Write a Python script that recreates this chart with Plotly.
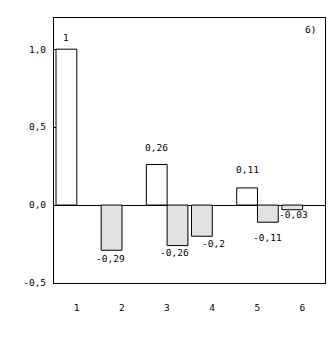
import plotly.graph_objects as go

# Data
categories = [1, 2, 3, 4, 5, 6]
tick_labels = ["1", "2", "3", "4", "5", "6"]
white_cats = [1, 3, 5]
white_vals = [1.0, 0.26, 0.11]
gray_cats = [2, 3, 4, 5, 6]
gray_vals = [-0.29, -0.26, -0.2, -0.11, -0.03]
y_ticks = [-0.5, 0.0, 0.5, 1.0]
y_tick_labels = ["-0,5", "0,0", "0,5", "1,0"]
panel_label = "6)"

# Style / layout
FONT = dict(family="DejaVu Sans Mono, Liberation Mono, monospace", size=9.5, color="black")
BW = 0.46
LEFT_OFF = -0.455
white_label_shift = [(0, 12), (0, 17.5), (0, 18)]
gray_label_shift = [(-1, -8.5), (-3, -7), (11.5, -7), (0, -15), (1, -5)]

def fmt(v):
    return f"{v:g}".replace(".", ",")

gray_offsets = [LEFT_OFF if c not in white_cats else LEFT_OFF + BW for c in gray_cats]

fig = go.Figure()
fig.add_trace(go.Bar(x=white_cats, y=white_vals, width=BW, offset=LEFT_OFF,
                     marker=dict(color="white", line=dict(color="black", width=1))))
fig.add_trace(go.Bar(x=gray_cats, y=gray_vals, width=BW, offset=gray_offsets,
                     marker=dict(color="#e2e2e2", line=dict(color="black", width=1))))

ann = []
for c, v, (dx, dy) in zip(white_cats, white_vals, white_label_shift):
    ann.append(dict(x=c + LEFT_OFF + BW / 2, y=v, text=fmt(v), showarrow=False,
                    xanchor="center", yanchor="middle", xshift=dx, yshift=dy, font=FONT))
for c, v, o, (dx, dy) in zip(gray_cats, gray_vals, gray_offsets, gray_label_shift):
    ann.append(dict(x=c + o + BW / 2, y=v, text=fmt(v), showarrow=False,
                    xanchor="center", yanchor="middle", xshift=dx, yshift=dy, font=FONT))
ann.append(dict(x=0.945, y=0.958, xref="paper", yref="paper", text=panel_label,
                showarrow=False, xanchor="center", yanchor="middle", font=FONT))

fig.update_layout(
    width=332, height=349,
    margin=dict(l=54, r=7, t=18, b=66),
    paper_bgcolor="white", plot_bgcolor="white",
    showlegend=False, barmode="overlay",
    font=FONT, annotations=ann,
)
fig.update_xaxes(range=[0.5, 6.5], tickvals=categories, ticktext=tick_labels,
                 showgrid=False, zeroline=False, showline=True, mirror=True,
                 linecolor="black", linewidth=1, ticks="", ticklabelstandoff=16,
                 tickfont=FONT)
fig.update_yaxes(range=[-0.5, 1.2], tickvals=y_ticks, ticktext=y_tick_labels,
                 showgrid=False, zeroline=True, zerolinecolor="black", zerolinewidth=1,
                 showline=True, mirror=True, linecolor="black", linewidth=1,
                 ticks="inside", ticklen=2, tickcolor="black", ticklabelstandoff=5,
                 tickfont=FONT)

fig.write_html("out.html")
